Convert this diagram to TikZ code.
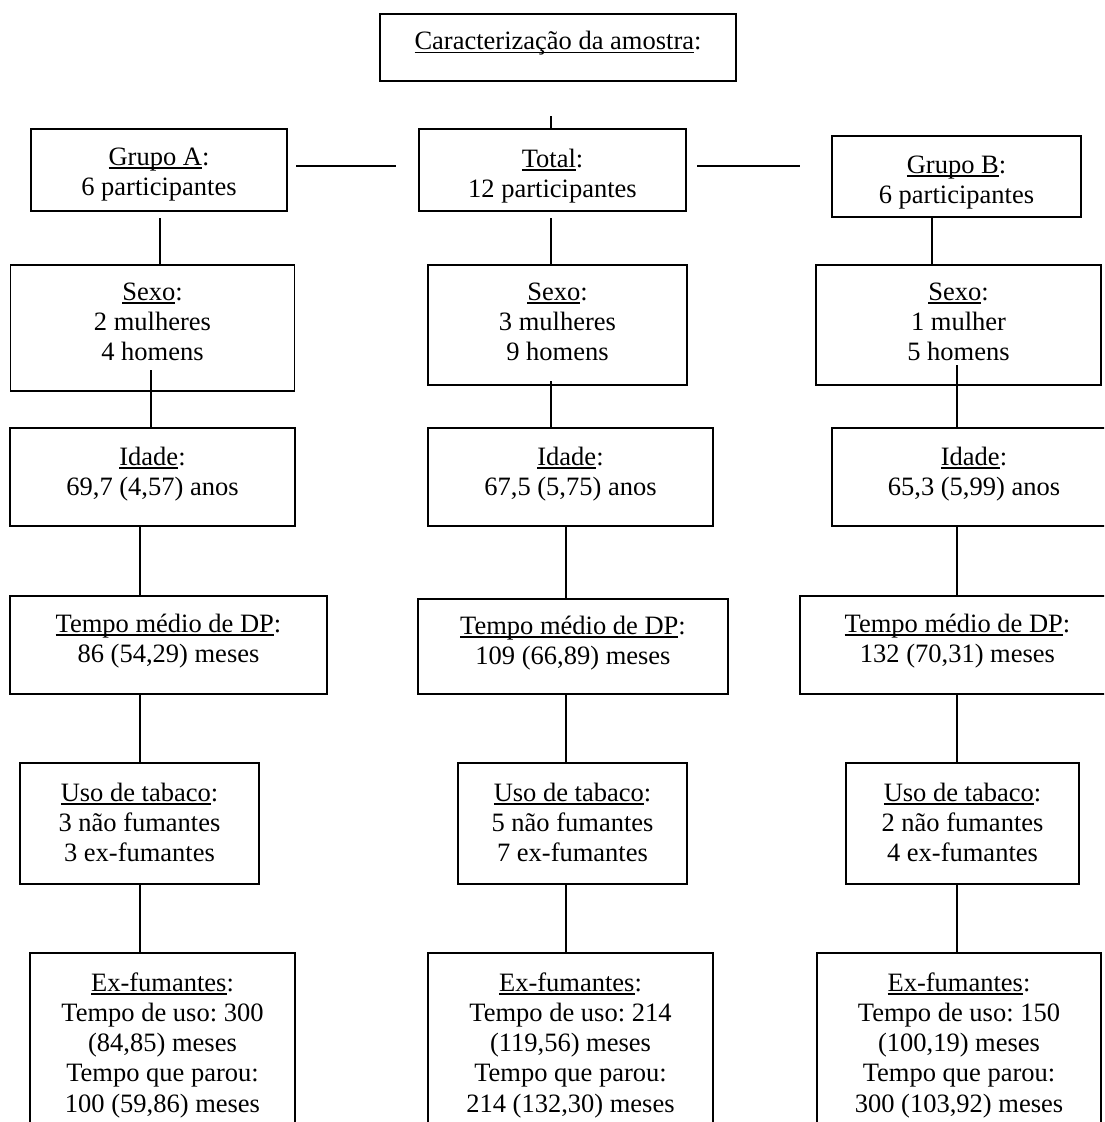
\documentclass[tikz,border=0pt]{standalone}
\usepackage{fontspec}
\setmainfont{Liberation Serif}
\frenchspacing
\newcommand\uln[1]{\setbox0=\hbox{#1}\rlap{\rule[-3.6pt]{\wd0}{1.3pt}}\box0}
\newcommand\bt[4]{\parbox[c][#2pt][t]{#1pt}{\centering\rule{0pt}{#3pt}#4}}
\begin{document}
\begin{tikzpicture}[x=1pt,y=-1pt,
  bx/.style={draw, rectangle, line width=1.4pt, inner sep=0pt, outer sep=0pt,
    font=\fontsize{26.5pt}{30.3pt}\selectfont},
  ln/.style={line width=1.4pt}]
\useasboundingbox (0,0) rectangle (1104,1122);
\fill[white] (0,0) rectangle (1104,1122);
\clip (0,0) rectangle (1104,1122);

% top
\node[bx] (top) at (558,47.5) {\bt{356}{67}{35.5}{\uln{Caracterização da amostra}:}};
% row 1
\node[bx] (gA) at (159,170) {\bt{256}{82}{36}{\uln{Grupo A}:\\6 participantes}};
\node[bx] (tot) at (552.5,170) {\bt{267}{82}{38}{\uln{Total}:\\12 participantes}};
\node[bx] (gB) at (956.5,176.5) {\bt{249}{81}{37}{\uln{Grupo B}:\\6 participantes}};
% Sexo
\node[bx] (sA) at (152.5,328) {\bt{284}{126}{35}{\uln{Sexo}:\\2 mulheres\\4 homens}};
\node[bx] (sT) at (557.5,325) {\bt{259}{120}{35}{\uln{Sexo}:\\3 mulheres\\9 homens}};
\node[bx] (sB) at (958.5,325) {\bt{285}{120}{35}{\uln{Sexo}:\\1 mulher\\5 homens}};
% Idade
\node[bx] (iA) at (152.5,477) {\bt{285}{98}{37}{\uln{Idade}:\\69,7 (4,57) anos}};
\node[bx] (iT) at (570.5,477) {\bt{285}{98}{37}{\uln{Idade}:\\67,5 (5,75) anos}};
\node[bx] (iB) at (974,477) {\bt{284}{98}{37}{\uln{Idade}:\\65,3 (5,99) anos}};
% Tempo medio
\node[bx] (pA) at (168.5,645) {\bt{317}{98}{36}{\uln{Tempo médio de DP}:\\86 (54,29) meses}};
\node[bx] (pT) at (573,646.5) {\bt{310}{95}{35}{\uln{Tempo médio de DP}:\\109 (66,89) meses}};
\node[bx] (pB) at (957.5,645) {\bt{315}{98}{36}{\uln{Tempo médio de DP}:\\132 (70,31) meses}};
% Uso de tabaco
\node[bx] (uA) at (139.5,823.5) {\bt{239}{121}{38}{\uln{Uso de tabaco}:\\3 não fumantes\\3 ex-fumantes}};
\node[bx] (uT) at (572.5,823.5) {\bt{229}{121}{38}{\uln{Uso de tabaco}:\\5 não fumantes\\7 ex-fumantes}};
\node[bx] (uB) at (962.5,823.5) {\bt{233}{121}{38}{\uln{Uso de tabaco}:\\2 não fumantes\\4 ex-fumantes}};
% Ex-fumantes
\node[bx] (eA) at (162.5,1046.5) {\bt{265}{187}{38}{\uln{Ex-fumantes}:\\Tempo de uso: 300\\(84,85) meses\\Tempo que parou:\\100 (59,86) meses}};
\node[bx] (eT) at (570.5,1046.5) {\bt{285}{187}{38}{\uln{Ex-fumantes}:\\Tempo de uso: 214\\(119,56) meses\\Tempo que parou:\\214 (132,30) meses}};
\node[bx] (eB) at (959,1046.5) {\bt{284}{187}{38}{\uln{Ex-fumantes}:\\Tempo de uso: 150\\(100,19) meses\\Tempo que parou:\\300 (103,92) meses}};

% connectors
\coordinate (c0) at (551,116);
\draw[ln] (c0) -- (c0 |- tot.north);
\coordinate (hl1) at (296,166); \coordinate (hl2) at (396,166);
\draw[ln] (hl1) -- (hl2);
\coordinate (hr1) at (697,166); \coordinate (hr2) at (800,166);
\draw[ln] (hr1) -- (hr2);
\coordinate (a1) at (160,218);
\draw[ln] (a1) -- (a1 |- sA.north);
\coordinate (t1) at (551,218);
\draw[ln] (t1) -- (t1 |- sT.north);
\coordinate (b1) at (932,217);
\draw[ln] (b1) -- (b1 |- sB.north);
\coordinate (a2) at (151,370);
\draw[ln] (a2) -- (a2 |- iA.north);
\coordinate (t2) at (551,381);
\draw[ln] (t2) -- (t2 |- iT.north);
\coordinate (b2) at (957,365);
\draw[ln] (b2) -- (b2 |- iB.north);
\coordinate (xA) at (140,0);
\coordinate (xT) at (566,0);
\coordinate (xB) at (957,0);
\draw[ln] (xA |- iA.south) -- (xA |- pA.north);
\draw[ln] (xT |- iT.south) -- (xT |- pT.north);
\draw[ln] (xB |- iB.south) -- (xB |- pB.north);
\draw[ln] (xA |- pA.south) -- (xA |- uA.north);
\draw[ln] (xT |- pT.south) -- (xT |- uT.north);
\draw[ln] (xB |- pB.south) -- (xB |- uB.north);
\draw[ln] (xA |- uA.south) -- (xA |- eA.north);
\draw[ln] (xT |- uT.south) -- (xT |- eT.north);
\draw[ln] (xB |- uB.south) -- (xB |- eB.north);
\end{tikzpicture}
\end{document}
